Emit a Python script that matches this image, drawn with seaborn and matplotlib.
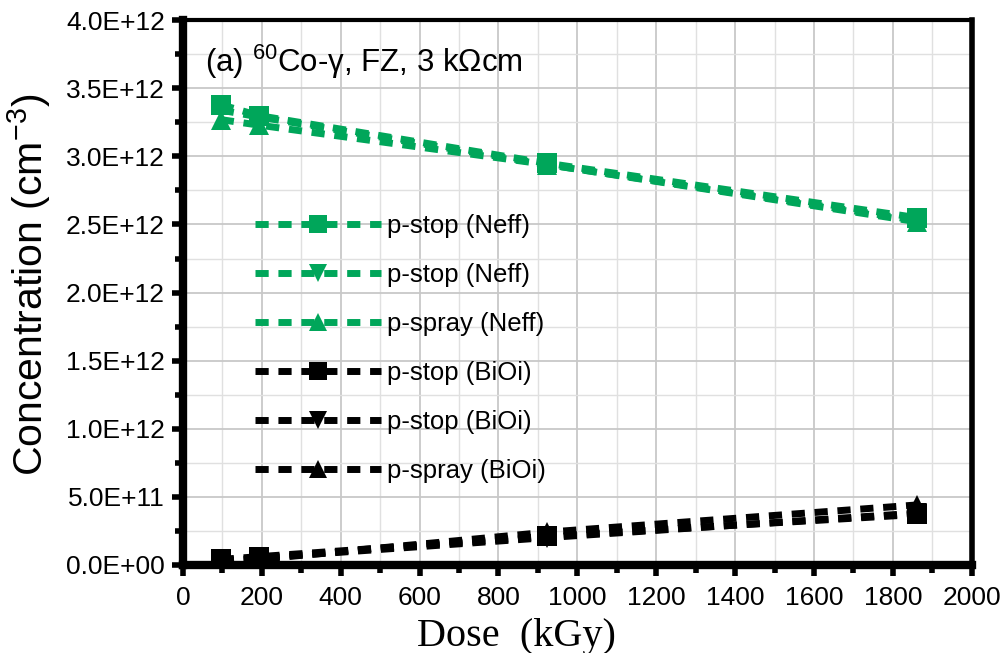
import numpy as np
import pandas as pd
import matplotlib
matplotlib.use("Agg")
import matplotlib.pyplot as plt
import seaborn as sns
from matplotlib.ticker import MultipleLocator, FuncFormatter

# Dose points (kGy)
dose = [96, 192, 923, 1861]

# Effective doping concentration Neff (cm^-3)
neff_pstop_a = [3.38e12, 3.30e12, 2.95e12, 2.55e12]
neff_pstop_b = [3.34e12, 3.29e12, 2.94e12, 2.53e12]
neff_pspray = [3.27e12, 3.23e12, 2.94e12, 2.52e12]

# BiOi defect concentration (cm^-3)
bioi_pstop_a = [0.04e12, 0.06e12, 0.21e12, 0.37e12]
bioi_pstop_b = [0.03e12, 0.05e12, 0.20e12, 0.38e12]
bioi_pspray = [0.03e12, 0.04e12, 0.24e12, 0.44e12]

labels = ["p-stop (Neff)", "p-stop (Neff)", "p-spray (Neff)",
          "p-stop (BiOi)", "p-stop (BiOi)", "p-spray (BiOi)"]
series = [neff_pstop_a, neff_pstop_b, neff_pspray,
          bioi_pstop_a, bioi_pstop_b, bioi_pspray]
markers = ["s", "v", "^", "s", "v", "^"]
green = "#00A65A"
colors = [green, green, green, "black", "black", "black"]
dash = (0, (1.9, 1.4))

sns.set_theme(style="white")
plt.rcParams["font.family"] = ["Liberation Sans", "DejaVu Sans"]
plt.rcParams["mathtext.fontset"] = "custom"
plt.rcParams["mathtext.rm"] = "Liberation Sans"
plt.rcParams["mathtext.it"] = "Liberation Sans"
plt.rcParams["mathtext.default"] = "regular"
plt.rcParams["text.color"] = "black"
plt.rcParams["axes.labelcolor"] = "black"
plt.rcParams["xtick.labelcolor"] = "black"
plt.rcParams["ytick.labelcolor"] = "black"

fig, ax = plt.subplots(figsize=(10.05, 6.53), dpi=100)
fig.subplots_adjust(left=0.182, right=0.967, top=0.969, bottom=0.135)

rows = []
for i, vals in enumerate(series):
    for d, v in zip(dose, vals):
        rows.append({"dose": d, "conc": v, "key": f"s{i}"})
df = pd.DataFrame(rows)

for i, lab in enumerate(labels):
    sub = df[df["key"] == f"s{i}"]
    sns.lineplot(data=sub, x="dose", y="conc", ax=ax, color=colors[i],
                 marker=markers[i], markersize=14, markeredgewidth=0,
                 linewidth=5, dashes=False, label=lab, zorder=3 + i)
    ax.lines[-1].set_linestyle(dash)

ax.set_xlim(0, 2000)
ax.set_ylim(0, 4e12)
ax.xaxis.set_major_locator(MultipleLocator(200))
ax.xaxis.set_minor_locator(MultipleLocator(100))
ax.yaxis.set_major_locator(MultipleLocator(0.5e12))
ax.yaxis.set_minor_locator(MultipleLocator(0.25e12))

def sci(v, pos):
    if v == 0:
        return "0.0E+00"
    e = int(np.floor(np.log10(abs(v))))
    m = v / 10 ** e
    return f"{m:.1f}E+{e:02d}"

ax.yaxis.set_major_formatter(FuncFormatter(sci))

ax.grid(True, which="major", color="#c8c8c8", linewidth=1.3)
ax.grid(True, which="minor", color="#e0e0e0", linewidth=1.0)
ax.set_axisbelow(True)

ax.tick_params(axis="both", which="major", direction="out", length=8,
               width=4, labelsize=19, color="black", labelcolor="black",
               bottom=True, left=True)
ax.tick_params(axis="x", which="major", pad=7)
ax.tick_params(axis="y", which="major", pad=5)
ax.tick_params(axis="both", which="minor", direction="out", length=6,
               width=4, color="black", bottom=True, left=True)

for side, lw in [("left", 6), ("bottom", 6), ("right", 4), ("top", 3)]:
    ax.spines[side].set_visible(True)
    ax.spines[side].set_color("black")
    ax.spines[side].set_linewidth(lw)

ax.set_xlabel("Dose  (kGy)", fontsize=29, color="black",
              family=["Liberation Serif", "DejaVu Serif"])
ax.xaxis.set_label_coords(0.423, -0.097)
ax.set_ylabel("Concentration (cm$^{-3}$)", fontsize=29.5, color="black")
ax.yaxis.set_label_coords(-0.165, 0.515)

ax.text(0.028, 0.958, "(a) $^{60}$Co-γ, FZ, 3 kΩcm", color="black",
        transform=ax.transAxes, fontsize=22.5, va="top", ha="left")

leg = ax.legend(loc="upper left", bbox_to_anchor=(0.091, 0.644), frameon=False,
                fontsize=18.5, handlelength=4.9, labelspacing=0.97, handletextpad=0.25,
                borderaxespad=0, borderpad=0, markerscale=0.9)
for h in leg.legend_handles:
    h.set_linestyle(dash)
for t in leg.get_texts():
    t.set_color("black")

fig.savefig("out.png", dpi=100)
